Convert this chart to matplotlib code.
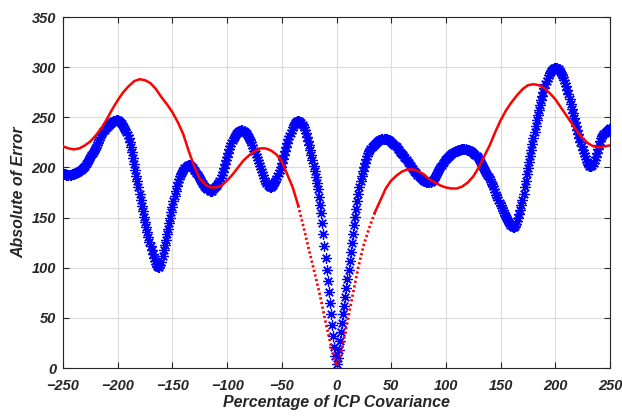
import numpy as np
import matplotlib
matplotlib.use("Agg")
import matplotlib.pyplot as plt

# ---------------------------------------------------------
# Data
# ---------------------------------------------------------
# blue series: one sample per percent, -250 .. 250
blue_x = np.arange(-250, 251, 1)
blue_err = [
    194, 193, 193, 192, 192, 192, 192, 192, 193, 193,   # -250
    193, 194, 194, 195, 195, 196, 197, 198, 199, 200,   # -240
    201, 203, 204, 206, 208, 210, 212, 214, 216, 218,   # -230
    220, 222, 225, 227, 230, 232, 234, 236, 237, 239,   # -220
    240, 241, 242, 243, 244, 245, 246, 246, 247, 247,   # -210
    247, 246, 245, 244, 243, 241, 239, 237, 235, 232,   # -200
    229, 225, 220, 215, 209, 203, 197, 191, 186, 180,   # -190
    174, 168, 162, 157, 151, 146, 141, 136, 131, 126,   # -180
    122, 118, 114, 110, 107, 104, 102, 101, 101, 103,   # -170
    106, 112, 118, 123, 128, 134, 139, 145, 150, 156,   # -160
    161, 167, 172, 177, 181, 185, 188, 191, 193, 195,   # -150
    197, 199, 200, 201, 202, 202, 202, 201, 200, 199,   # -140
    197, 196, 194, 192, 190, 188, 186, 184, 183, 181,   # -130
    180, 179, 178, 178, 177, 177, 177, 178, 179, 180,   # -120
    181, 182, 184, 186, 189, 192, 195, 199, 203, 207,   # -110
    210, 214, 218, 221, 224, 227, 229, 231, 233, 234,   # -100
    235, 236, 236, 237, 237, 236, 235, 234, 233, 231,   # -90
    229, 227, 225, 222, 219, 216, 213, 210, 207, 204,   # -80
    201, 198, 195, 192, 189, 186, 184, 182, 181, 180,   # -70
    180, 181, 182, 184, 186, 188, 191, 194, 197, 200,   # -60
    204, 208, 212, 216, 220, 224, 228, 231, 234, 237,   # -50
    240, 242, 244, 245, 246, 246, 246, 245, 244, 242,   # -40
    240, 237, 234, 230, 226, 222, 217, 212, 207, 201,   # -30
    196, 190, 184, 178, 171, 163, 155, 145, 134, 122,   # -20
    110, 98, 87, 76, 65, 54, 43, 32, 21, 12,            # -10
    4,                                                  # 0
    10, 18, 27, 36, 45, 54, 62, 71, 80, 89,             # 1
    98, 107, 116, 125, 134, 143, 151, 159, 167, 174,    # 11
    180, 186, 191, 196, 200, 204, 208, 211, 214, 216,   # 21
    218, 220, 221, 222, 223, 224, 225, 226, 227, 227,   # 31
    228, 228, 228, 228, 228, 228, 227, 227, 226, 225,   # 41
    224, 223, 222, 221, 220, 218, 217, 215, 214, 213,   # 51
    212, 210, 209, 207, 205, 204, 202, 201, 199, 198,   # 61
    196, 195, 194, 192, 191, 190, 189, 188, 187, 186,   # 71
    186, 185, 185, 185, 185, 185, 186, 187, 188, 190,   # 81
    192, 194, 196, 198, 200, 202, 204, 205, 207, 208,   # 91
    209, 210, 211, 212, 213, 214, 215, 215, 216, 216,   # 101
    217, 217, 217, 218, 218, 218, 218, 218, 217, 217,   # 111
    217, 216, 216, 215, 214, 213, 212, 211, 210, 208,   # 121
    206, 204, 202, 200, 198, 196, 194, 192, 190, 188,   # 131
    185, 183, 181, 178, 176, 173, 171, 168, 165, 163,   # 141
    160, 158, 155, 153, 151, 149, 147, 145, 143, 142,   # 151
    141, 141, 142, 144, 147, 150, 154, 158, 163, 168,   # 161
    174, 180, 186, 193, 199, 205, 211, 217, 223, 229,   # 171
    235, 241, 247, 252, 257, 262, 267, 271, 275, 279,   # 181
    283, 286, 289, 292, 294, 296, 297, 298, 299, 299,   # 191
    299, 299, 298, 296, 294, 292, 290, 287, 284, 281,   # 201
    277, 273, 268, 263, 258, 254, 249, 245, 241, 237,   # 211
    233, 229, 225, 221, 217, 214, 211, 208, 205, 203,   # 221
    201, 201, 201, 202, 204, 207, 210, 214, 218, 222,   # 231
    226, 229, 231, 233, 234, 235, 236, 237, 238, 239,   # 241
]

# red series: one sample every 5 percent
red_x = np.arange(-250, 251, 5)
red_err = [
    221, 219, 218, 219, 222, 226, 232, 239, 248, 258,   # -250
    267, 275, 281, 286, 288, 287, 284, 278, 270, 263,   # -200
    255, 245, 233, 216, 201, 189, 183, 180, 180, 182,   # -150
    187, 193, 200, 207, 212, 216, 219, 219, 217, 213,   # -100
    206, 193, 180, 162, 140, 117, 95, 72, 46, 22,       # -50
    2,                                                  # 0
    19, 46, 74, 101, 123, 140, 155, 167, 179, 187,      # 5
    192, 196, 198, 198, 196, 193, 188, 185, 182, 180,   # 55
    179, 179, 181, 185, 191, 200, 211, 222, 235, 247,   # 105
    257, 265, 272, 278, 282, 283, 282, 279, 274, 268,   # 155
    260, 252, 244, 236, 229, 224, 221, 220, 221, 222,   # 205
]

x_ticks = [-250, -200, -150, -100, -50, 0, 50, 100, 150, 200, 250]
y_ticks = [0, 50, 100, 150, 200, 250, 300, 350]

# ---------------------------------------------------------
# Plot
# ---------------------------------------------------------
plt.rcParams['font.family'] = ['Liberation Sans', 'DejaVu Sans']
text_color = '#262626'

fig = plt.figure(figsize=(6.22, 4.17), dpi=100)
ax = fig.add_axes([0.1013, 0.1175, 0.8794, 0.8417])

blue_x = np.asarray(blue_x)
blue_err = np.asarray(blue_err)
red_x = np.asarray(red_x)
red_err = np.asarray(red_err)

ax.plot(blue_x, blue_err, linestyle='none', marker=(8, 2, 0), markersize=7.5,
        markeredgewidth=0.9, color='blue', zorder=3)

# red curve is a dense dotted trace: solid-looking where flat, dotted where steep
outer_l = red_x <= -35
outer_r = red_x >= 35
inner = (red_x >= -35) & (red_x <= 35)
ax.plot(red_x[outer_l], red_err[outer_l], color='red', lw=1.8, zorder=4,
        solid_joinstyle='round')
ax.plot(red_x[outer_r], red_err[outer_r], color='red', lw=1.8, zorder=4,
        solid_joinstyle='round')
ax.plot(red_x[inner], red_err[inner], color='red', lw=2.0,
        linestyle=(0, (0.8, 0.9)), zorder=4)

ax.set_xlim(-250, 250)
ax.set_ylim(0, 350)
ax.set_xticks(x_ticks)
ax.set_yticks(y_ticks)
ax.grid(True, color='#dcdcdc', linewidth=0.8)
ax.set_axisbelow(True)

ax.tick_params(direction='in', length=4, width=0.8, top=True, right=True,
               colors=text_color, labelsize=10.5)
ax.tick_params(axis='x', pad=8)
ax.tick_params(axis='y', pad=5)
for lab in ax.get_xticklabels() + ax.get_yticklabels():
    lab.set_fontweight('bold')
    lab.set_fontstyle('italic')
for side in ax.spines.values():
    side.set_color(text_color)
    side.set_linewidth(0.8)

ax.set_xlabel('Percentage of ICP Covariance', fontsize=11.5, fontweight='bold',
              fontstyle='italic', color=text_color, labelpad=1)
ax.set_ylabel('Absolute of Error', fontsize=11.5, fontweight='bold',
              fontstyle='italic', color=text_color, labelpad=4)

fig.savefig('out.png', dpi=100)
